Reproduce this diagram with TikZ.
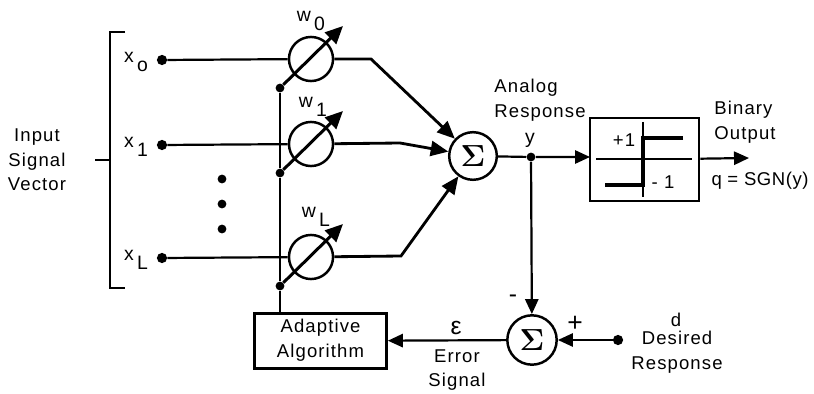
\documentclass[tikz,border=0pt]{standalone}
\usepackage{amsmath}
\usepackage{amssymb}
\usepackage{fontspec}
\setmainfont{Liberation Sans}
\usetikzlibrary{arrows.meta}
\tikzset{
  sumnode/.style={draw,circle,line width=1.4pt,inner sep=0pt},
  weightnode/.style={draw,circle,line width=1.4pt,minimum size=25pt,inner sep=0pt},
  pin/.style={circle,fill,minimum size=5pt,inner sep=0pt},
  bigpin/.style={circle,fill,minimum size=5.8pt,inner sep=0pt},
  boxnode/.style={draw,line width=1.4pt,inner sep=0pt},
  txt/.style={inner sep=0pt,align=center,font=\fontsize{10.5}{14}\selectfont\addfontfeature{LetterSpace=6}},
  lefttxt/.style={txt,align=left},
  symb/.style={inner sep=0pt,align=center,font=\fontsize{11}{12}\selectfont},
  sig/.style={line width=1.25pt},
  arr/.style={line width=1.25pt,-{Triangle[length=8.5pt,width=7.5pt]}},
  heavyarr/.style={line width=1.6pt,-{Triangle[length=10pt,width=8.5pt]}},
  wire/.style={line width=1.7pt,-{Triangle[length=10pt,width=9pt]}},
}
\begin{document}
\begin{tikzpicture}[x=0.567pt,y=-0.567pt]
    \useasboundingbox (0,0) rectangle (814,394);
    \path[fill=white] (0,0) rectangle (814,394);

    % inputs and weights
    \foreach \n/\y/\sub in {0/59/o,1/144/1,L/257/L} {
        \node[bigpin] (x\n) at (162,\y+1) {};
        \node[weightnode] (w\n) at (311,\y) {};
        \node[symb] (lx\n) at (136,\y+3) {x\raisebox{-5pt}{\,\sub}};
        \node[pin] (p\n) at (280,\y+29) {};
        \coordinate (t\n) at (343,\y-33);
        \draw[sig] (x\n) -- (w\n);
        \draw[wire] (p\n) -- (t\n);
    };
    \node[symb] (lw0) at (311,21) {w\raisebox{-5pt}{\,0}};
    \node[symb] (lw1) at (313,107) {w\raisebox{-5pt}{\,1}};
    \node[symb] (lwL) at (316,217) {w\raisebox{-5pt}{\,L}};

    % bracket
    \coordinate (bt) at (125,32);
    \coordinate (bu) at (110,32);
    \coordinate (bd) at (110,288);
    \coordinate (be) at (125,288);
    \coordinate (bm) at (110,160);
    \coordinate (bl) at (95,160);
    \draw[sig] (bt) -- (bu) -- (bd) -- (be);
    \draw[sig] (bl) -- (bm);
    \node[txt] (input) at (37,160) {Input\\Signal\\Vector};

    % the three dots
    \foreach \y in {179,204,229} {
        \node[pin] (dot\y) at (222,\y) {};
    };

    % adaptive algorithm
    \node[boxnode,minimum width=75pt,minimum height=31pt] (adapt) at (320.5,341) {};
    \node[txt] (adapttxt) at (320.5,340) {Adaptive\\Algorithm};
    \coordinate (adaptup) at (280,313);
    \draw[sig] (p0) -- (p1);
    \draw[sig] (p1) -- (pL);
    \draw[sig] (pL) -- (adaptup);

    % summing nodes
    \node[sumnode,minimum size=27pt] (sum) at (473,156) {\LARGE$\boldsymbol{\Sigma}$};
    \node[sumnode,minimum size=28pt] (err) at (532,340) {\LARGE$\boldsymbol{\Sigma}$};

    \coordinate (k0) at (371,59);
    \coordinate (k1) at (400,143);
    \coordinate (kL) at (401,256);
    \draw[heavyarr] (w0) -- (k0) -- (sum);
    \draw[heavyarr] (w1) -- (k1) -- (sum);
    \draw[heavyarr] (wL) -- (kL) -- (sum);

    % threshold box
    \node[boxnode,minimum width=62pt,minimum height=47pt] (hard) at (644.5,159.5) {};
    \coordinate (hv1) at (643,122);
    \coordinate (hv2) at (643,197);
    \coordinate (hh1) at (596,159);
    \coordinate (hh2) at (692,159);
    \coordinate (st1) at (683,138);
    \coordinate (st2) at (643,138);
    \coordinate (st3) at (643,185);
    \coordinate (st4) at (605,185);
    \draw[sig] (hv1) -- (hv2);
    \draw[sig] (hh1) -- (hh2);
    \draw[line width=2.4pt] (st1) -- (st2) -- (st3) -- (st4);
    \node[txt] (plus1) at (624,140) {+1};
    \node[txt] (minus1) at (663,182) {- 1};

    % outputs
    \node[pin] (yp) at (531,157) {};
    \coordinate (hardin) at (590,157);
    \coordinate (out) at (749,158);
    \draw[arr] (sum) -- (yp) -- (hardin);
    \draw[arr] (hard) -- (out);
    \draw[arr] (yp) -- (err);
    \node[bigpin] (d) at (618,340) {};
    \draw[arr] (d) -- (err);
    \draw[arr] (err) -- (adapt);

    % labels
    \node[lefttxt] (analog) at (540,100) {Analog\\Response};
    \node[symb] (ylab) at (530,140) {y};
    \node[lefttxt] (binary) at (745,122) {Binary\\Output};
    \node[txt,font=\fontsize{10.5}{14}\selectfont\addfontfeature{LetterSpace=3}] (sgn) at (760,181) {q = SGN(y)};
    \node[symb,font=\fontsize{14}{14}\selectfont] (minus) at (513,299) {-};
    \node[symb,font=\fontsize{15}{15}\selectfont] (plus) at (575,324) {+};
    \node[symb,font=\fontsize{14}{14}\selectfont] (eps) at (456,328) {ε};
    \node[txt] (errtxt) at (457,370) {Error\\Signal};
    \node[txt] (dlab) at (676,320) {d};
    \node[txt] (desired) at (677,352) {Desired\\Response};
\end{tikzpicture}
\end{document}
